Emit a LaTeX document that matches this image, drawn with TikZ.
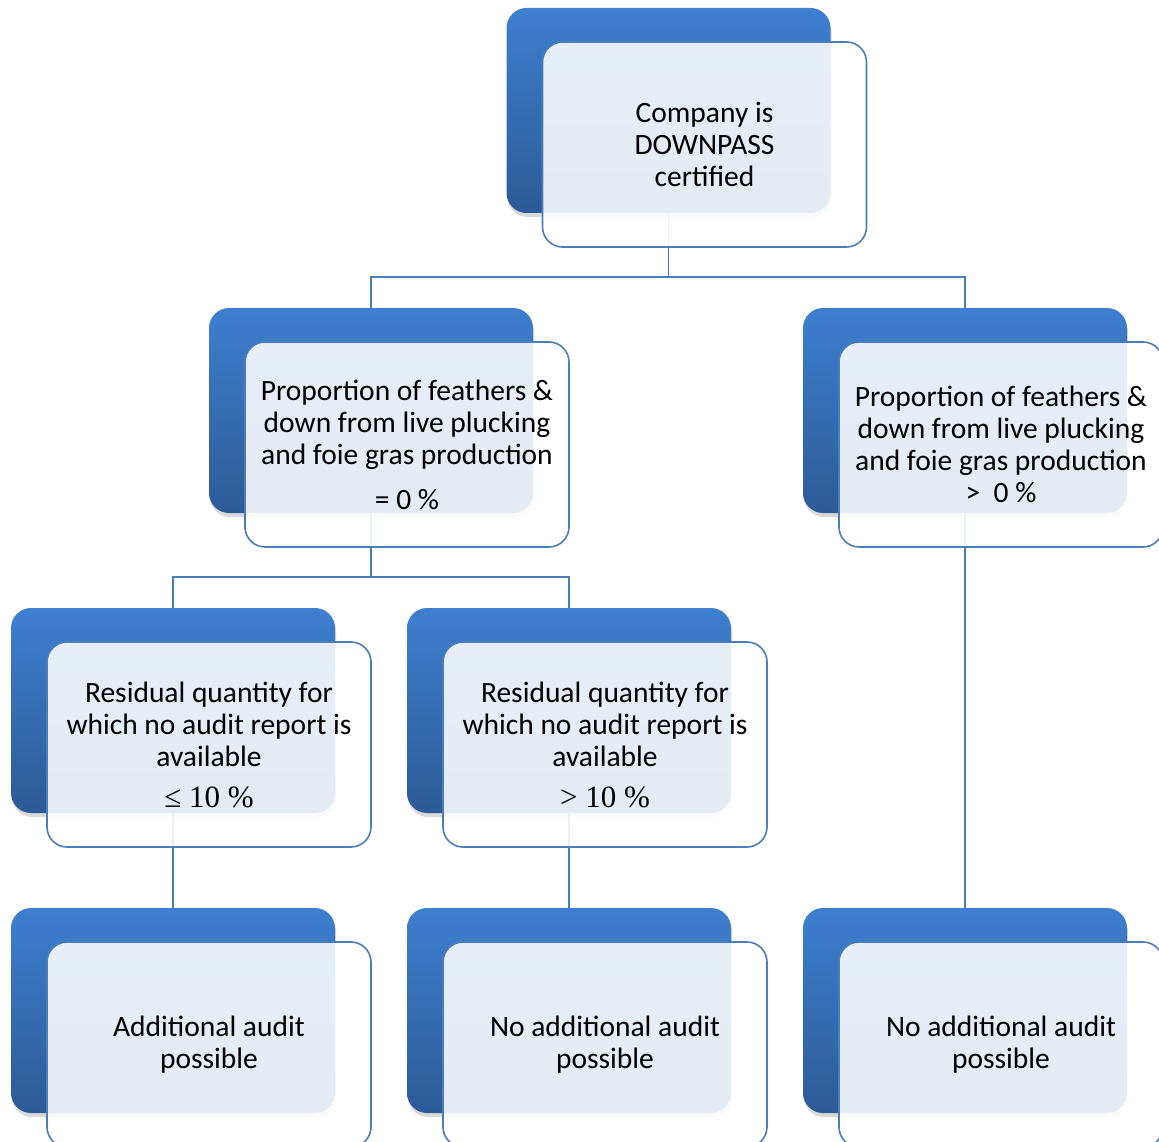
\documentclass[tikz,border=0pt]{standalone}
\usepackage[no-math]{fontspec}
\setmainfont{Carlito}
\newfontfamily\mathlike{Liberation Serif}
\usepackage{tikz}
\usetikzlibrary{shadows}
\definecolor{boxtop}{HTML}{3E7FCF}
\definecolor{boxbottom}{HTML}{2C5B97}
\definecolor{edgeblue}{HTML}{4A7EBB}

\begin{document}
\begin{tikzpicture}[
    x=1pt, y=-1pt,
    every node/.style = {font=\fontsize{29.5}{32}\selectfont},
    backbox/.style = {rectangle, rounded corners=20pt, minimum width=324pt,
                      minimum height=205pt, draw=none, top color=boxtop, bottom color=boxbottom,
                      drop shadow={shadow xshift=1pt, shadow yshift=-4pt, opacity=0.3}},
    frontbox/.style = {rectangle, rounded corners=20pt, minimum width=324pt,
                       minimum height=205pt, inner sep=0pt, draw=edgeblue, line width=1.6pt,
                       fill=white, fill opacity=0.88, text opacity=1, align=center},
    link/.style = {draw=edgeblue, line width=1.6pt}
  ]
    \useasboundingbox (0,0) rectangle (1159,1142);
    \clip (0,0) rectangle (1159,1142);

    % Back boxes
    \node[backbox] (top) at (668.5,110.5) {};
    \node[backbox] (zero) at (371,410.5) {};
    \node[backbox] (above) at (965,410.5) {};
    \node[backbox] (low) at (173,710.5) {};
    \node[backbox] (high) at (569,710.5) {};
    \node[backbox] (addaudit) at (173,1010.5) {};
    \node[backbox] (noaudita) at (569,1010.5) {};
    \node[backbox] (noauditb) at (965,1010.5) {};

    % Connectors
    \draw[link] (top.south) -- ++(0,64) -| (zero.north);
    \draw[link] (top.south) -- ++(0,64) -| (above.north);
    \draw[link] (zero.south) -- ++(0,64) -| (low.north);
    \draw[link] (zero.south) -- ++(0,64) -| (high.north);
    \draw[link] (low.south) -- (addaudit.north);
    \draw[link] (high.south) -- (noaudita.north);
    \draw[link] (above.south) -- (noauditb.north);

    % Front boxes
    \node[frontbox] (topt) at ([shift={(36,34)}]top.center) {Company is\\DOWNPASS\\certified};
    \node[frontbox] (zerot) at ([shift={(36,34)}]zero.center)
      {Proportion of feathers \&\\down from live plucking\\and foie gras production\\[13pt]= 0 \%};
    \node[frontbox] (abovet) at ([shift={(36,34)}]above.center)
      {Proportion of feathers \&\\down from live plucking\\and foie gras production\\>\ \ 0 \%};
    \node[frontbox] (lowt) at ([shift={(36,34)}]low.center)
      {Residual quantity for\\which no audit report is\\available\\[9pt]{\mathlike\fontsize{31}{32}\selectfont ≤ 10 \%}};
    \node[frontbox] (hight) at ([shift={(36,34)}]high.center)
      {Residual quantity for\\which no audit report is\\available\\[9pt]{\mathlike\fontsize{31}{32}\selectfont > 10 \%}};
    \node[frontbox] (addauditt) at ([shift={(36,34)}]addaudit.center) {Additional audit\\possible};
    \node[frontbox] (noauditat) at ([shift={(36,34)}]noaudita.center) {No additional audit\\possible};
    \node[frontbox] (noauditbt) at ([shift={(36,34)}]noauditb.center) {No additional audit\\possible};

  \end{tikzpicture}
\end{document}
